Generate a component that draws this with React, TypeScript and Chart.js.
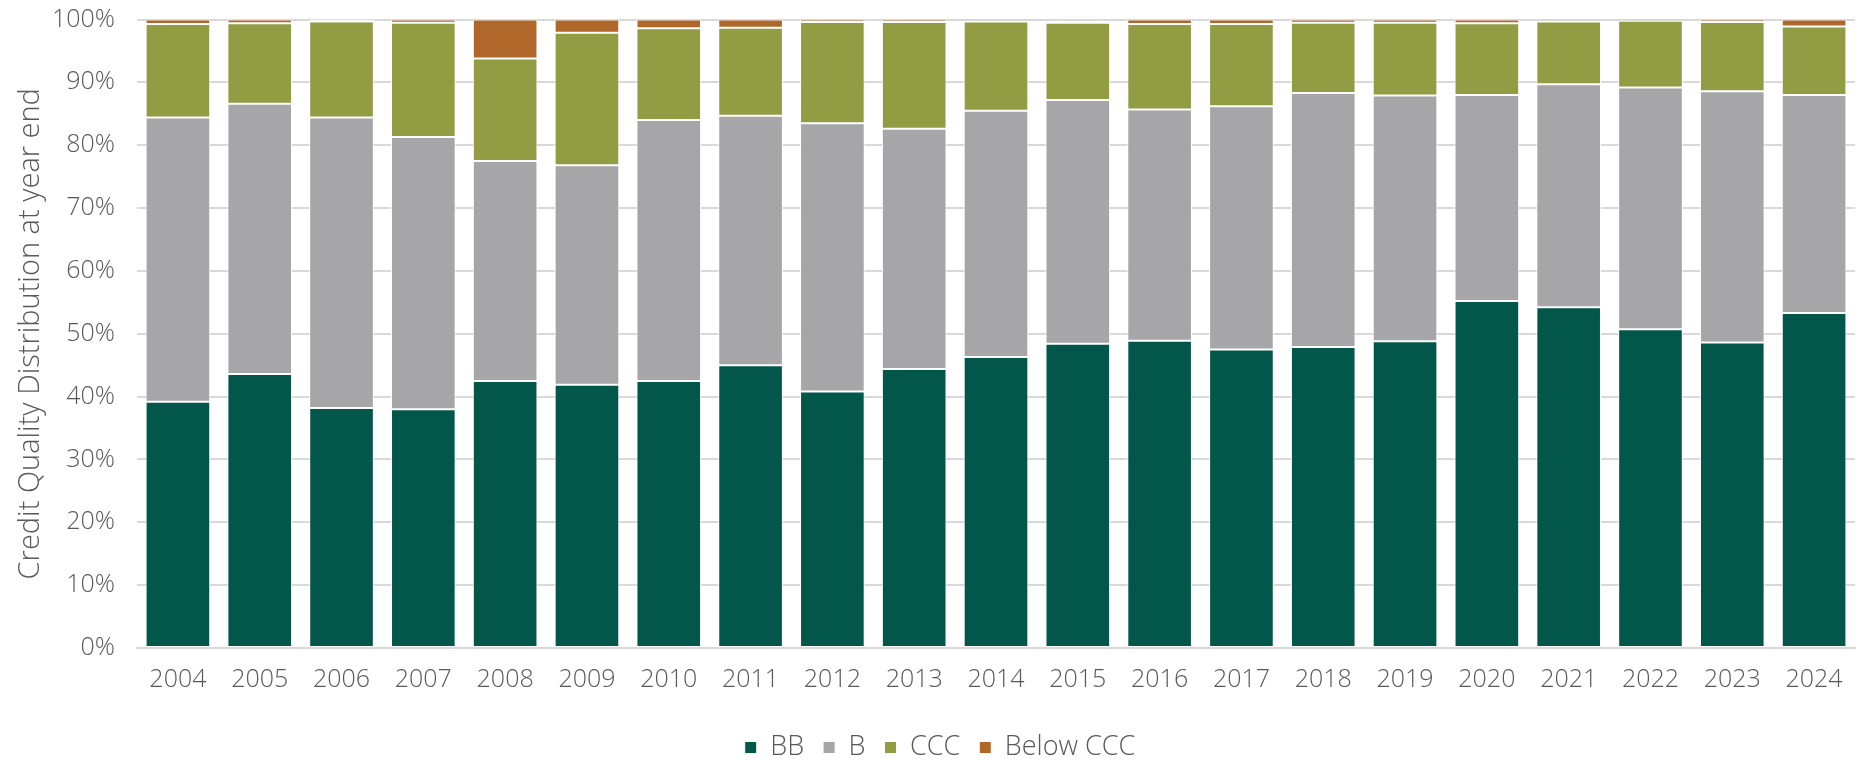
import React, { useEffect, useRef } from "react";
import { Chart, registerables } from "chart.js";

Chart.register(...registerables);

const years = ["2004","2005","2006","2007","2008","2009","2010","2011","2012","2013","2014","2015","2016","2017","2018","2019","2020","2021","2022","2023","2024"];
const bbValues = [39.2, 43.6, 38.2, 38.0, 42.5, 41.9, 42.5, 45.0, 40.8, 44.4, 46.3, 48.4, 48.9, 47.5, 47.9, 48.8, 55.2, 54.2, 50.7, 48.6, 53.3];
const bValues = [45.2, 43.0, 46.2, 43.3, 35.0, 34.9, 41.5, 39.7, 42.7, 38.2, 39.2, 38.8, 36.8, 38.7, 40.4, 39.1, 32.8, 35.5, 38.5, 40.0, 34.7];
const cccValues = [14.9, 12.8, 15.3, 18.2, 16.3, 21.1, 14.6, 14.0, 16.1, 17.0, 14.2, 12.3, 13.6, 13.1, 11.2, 11.6, 11.4, 10.0, 10.6, 11.0, 10.9];
const belowCccValues = [0.7, 0.6, 0.3, 0.5, 6.2, 2.1, 1.4, 1.3, 0.4, 0.4, 0.0, 0.3, 0.7, 0.7, 0.5, 0.5, 0.6, 0.0, 0.0, 0.4, 1.1];
const seriesNames = ["BB", "B", "CCC", "Below CCC"];
const seriesColors = ["#03574A", "#A6A6A8", "#919C43", "#B0672A"];
const yAxisTitle = "Credit Quality Distribution at year end";

const FONT_FAMILY = "'Open Sans', sans-serif";
const TEXT_COLOR = "#595959";
const GRID_COLOR = "#D9D9D9";

export default function App() {
  const canvasRef = useRef<HTMLCanvasElement>(null);

  useEffect(() => {
    const seriesValues = [bbValues, bValues, cccValues, belowCccValues];
    const font = { family: FONT_FAMILY, size: 25, weight: 300 as any };
    const chart = new Chart(canvasRef.current!, {
      type: "bar",
      data: {
        labels: years,
        datasets: seriesNames.map((name, i) => ({
          label: name,
          data: seriesValues[i],
          backgroundColor: seriesColors[i],
          borderColor: "#FFFFFF",
          borderWidth: 1,
          borderSkipped: false,
          barPercentage: 0.79,
          categoryPercentage: 1,
        })),
      },
      options: {
        responsive: false,
        animation: false,
        layout: { padding: { left: 25, right: 7, top: 19.5, bottom: -11 } },
        plugins: {
          tooltip: { enabled: false },
          legend: {
            position: "bottom",
            labels: {
              boxWidth: 12,
              boxHeight: 12,
              padding: 19,
              color: TEXT_COLOR,
              font: { family: FONT_FAMILY, size: 27, weight: 300 as any },
            },
          },
        },
        scales: {
          x: {
            stacked: true,
            grid: { display: false, drawTicks: false },
            border: { display: true, color: GRID_COLOR, width: 2 },
            ticks: { color: TEXT_COLOR, font, padding: 16.5 },
            afterFit: (scale: any) => {
              scale.height += 4;
            },
          },
          y: {
            stacked: true,
            min: 0,
            max: 100,
            ticks: {
              stepSize: 10,
              callback: (v: any) => `${v}%`,
              color: TEXT_COLOR,
              font,
              padding: 22,
            },
            grid: { color: GRID_COLOR, lineWidth: 2, drawTicks: false },
            border: { display: false },
            title: {
              display: true,
              text: yAxisTitle,
              color: TEXT_COLOR,
              font: { family: FONT_FAMILY, size: 29, weight: 300 as any },
              padding: { top: -12, bottom: 0 },
            },
            afterFit: (scale: any) => {
              scale.width = 112;
              scale.paddingTop = 0;
              scale.paddingBottom = 0;
            },
          },
        },
      },
    });
    return () => chart.destroy();
  }, []);

  return (
    <div style={{ position: "fixed", left: 0, top: 0, width: 1862, height: 760, background: "#FFFFFF" }}>
      <canvas ref={canvasRef} width={1862} height={760} style={{ display: "block" }} />
    </div>
  );
}
